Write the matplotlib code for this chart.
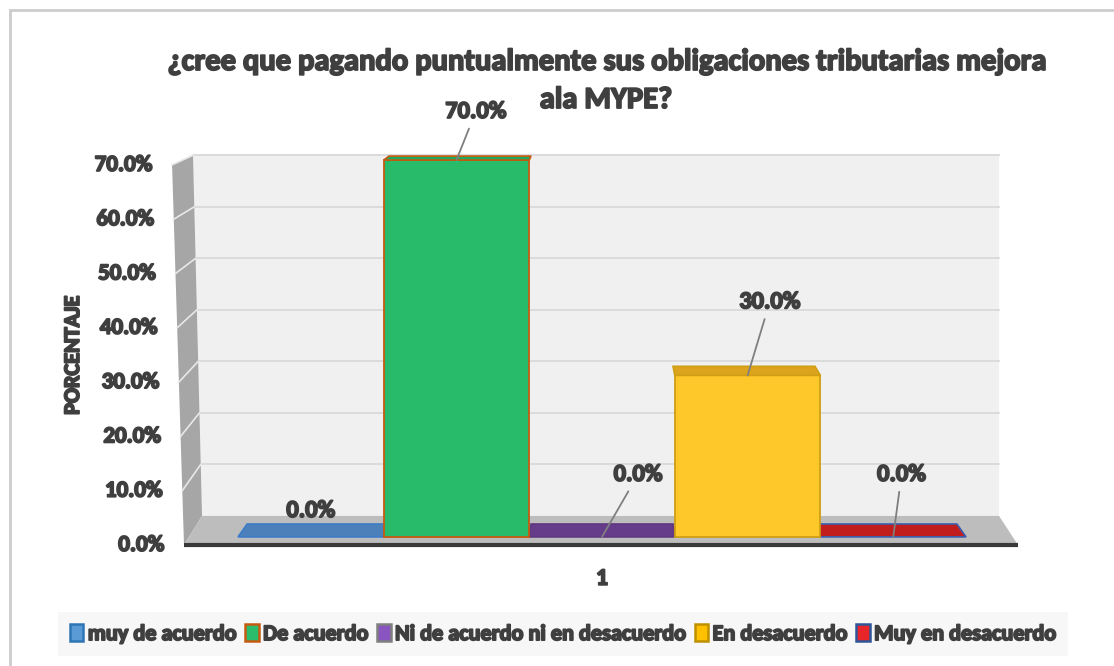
import numpy as np
import matplotlib.pyplot as plt
import matplotlib.patheffects as pe
from matplotlib import font_manager
from matplotlib.patches import Polygon, Rectangle, Patch

instaladas = {f.name for f in font_manager.fontManager.ttflist}
preferidas = ['Carlito', 'Liberation Sans Narrow', 'PT Sans Narrow', 'Roboto Condensed',
              'Open Sans Condensed', 'Archivo Narrow', 'DejaVu Sans']
fuente = [f for f in preferidas if f in instaladas][0]
plt.rcParams['font.family'] = [fuente, 'DejaVu Sans']
plt.rcParams['font.weight'] = 'bold'

# Datos del gráfico
categorias = ['muy de acuerdo', 'De acuerdo', 'Ni de acuerdo ni en desacuerdo',
              'En desacuerdo', 'Muy en desacuerdo']
porcentajes = [0.0, 70.0, 0.0, 30.0, 0.0]
ticks_y = [0, 10, 20, 30, 40, 50, 60, 70]
etiqueta_x = '1'
titulo = ['¿cree que pagando puntualmente sus obligaciones tributarias mejora', 'ala MYPE?']

# Colores
col_frente = ['#4f81b9', '#28bb6a', '#673d88', '#ffc82a', '#c41f1f']
col_tapa = ['#4c80bb', '#22a95e', '#653c8a', '#dca41c', '#c11d1d']
col_borde = ['#3d7cc9', '#c55a11', '#5e3780', '#d09e12', '#3a5fb0']
ley_cara = ['#5b9bd5', '#2bbd6b', '#8a55c0', '#ffc000', '#e8262a']
ley_borde = ['#2e75b6', '#c55a11', '#7f7f7f', '#bf9000', '#2f5597']
gris_texto = '#3f3f3f'
grueso = [pe.withStroke(linewidth=1.3, foreground=gris_texto)]

fig = plt.figure(figsize=(11.14, 6.66), dpi=100)
fig.patch.set_facecolor('white')
fig.add_artist(Rectangle((10 / 1114, -0.02), 1.05, 1 - 10 / 666 + 0.02,
                         transform=fig.transFigure, fill=False,
                         edgecolor='#cccccc', lw=2))

ax = fig.add_axes([184 / 1114, 121 / 666, 834 / 1114, 393 / 666])
ax.set_xlim(-0.871, 4.857)
ax.set_ylim(-1.5, 71.5)
ax.axis('off')

# "3D": suelo, pared de fondo y pared lateral
y_fr, y_fo = -1.5, 3.9          # borde frontal / fondo del suelo
x_fr = (-0.871, 4.857)
x_fo = (-0.747, 4.727)
y_top_fondo, x_top_fondo = 70.9, -0.809
y_top_frente, x_top_frente = 69.1, -0.953

ax.add_patch(Polygon([(x_fo[0], y_fo), (x_top_fondo, y_top_fondo),
                      (x_fo[1], y_top_fondo), (x_fo[1], y_fo)],
                     facecolor='#f0f0f0', edgecolor='none', zorder=0, clip_on=False))
ax.add_patch(Polygon([(x_top_frente, y_top_frente), (x_fr[0], y_fr),
                      (x_fo[0], y_fo), (x_top_fondo, y_top_fondo)],
                     facecolor='#a6a6a6', edgecolor='none', zorder=1, clip_on=False))
ax.add_patch(Polygon([(x_fr[0], y_fr), (x_fr[1], y_fr), (x_fo[1], y_fo), (x_fo[0], y_fo)],
                     facecolor='#bdbdbd', edgecolor='none', zorder=1, clip_on=False))
ax.plot(x_fr, [y_fr, y_fr], color='#3a3a3a', lw=3, zorder=6, clip_on=False,
        solid_capstyle='butt')

for v in ticks_y:
    t = v / 70
    yb = y_fo + t * (y_top_fondo - y_fo)
    xb = x_fo[0] + t * (x_top_fondo - x_fo[0])
    yf = y_fr + t * (y_top_frente - y_fr)
    xf = x_fr[0] + t * (x_top_frente - x_fr[0])
    if v > 0:
        ax.plot([xb, x_fo[1]], [yb, yb], color='#d9d9d9', lw=1.3, zorder=0.5, clip_on=False)
        ax.plot([xf, xb], [yf, yb], color='#e8e8e8', lw=1.2, zorder=1.5, clip_on=False)
    ax.annotate(f'{v:.1f}%', xy=(xf, yf), xytext=(-14, 0), textcoords='offset points',
                ha='right', va='center', fontsize=16.5, color=gris_texto,
                fontweight='bold', annotation_clip=False, path_effects=grueso)

# Barras
x = np.arange(len(porcentajes))
for i, v in enumerate(porcentajes):
    if v > 0:
        ax.bar(x[i], v, width=1, color=col_frente[i], edgecolor=col_borde[i],
               lw=1.3, zorder=4)
    dy = 2.4 - v * (2.4 - 0.74) / 70
    dl = (2 - (x[i] - 0.5)) * 0.025
    dr = (2 - (x[i] + 0.5)) * 0.025
    ax.add_patch(Polygon([(x[i] - 0.5, v), (x[i] + 0.5, v),
                          (x[i] + 0.5 + dr, v + dy), (x[i] - 0.5 + dl, v + dy)],
                         facecolor=col_tapa[i], edgecolor=col_borde[i], lw=1.2,
                         zorder=3 if v == 0 else 5, clip_on=False))

# Etiquetas de datos (desplazamiento en puntos)
desplaz = [(0, 19), (14, 35), (26, 45), (16, 53), (6, 45)]
for i, v in enumerate(porcentajes):
    flecha = None if i == 0 else dict(arrowstyle='-', color='#7f7f7f', lw=1.3,
                                      shrinkA=3, shrinkB=0)
    ax.annotate(f'{v:.1f}%', xy=(x[i], v), xytext=desplaz[i], textcoords='offset points',
                ha='center', va='center', fontsize=17.5, color=gris_texto,
                fontweight='bold', arrowprops=flecha, zorder=7, annotation_clip=False,
                path_effects=grueso)

ax.annotate(etiqueta_x, xy=(2, y_fr), xytext=(0, -24), textcoords='offset points',
            ha='center', va='center', fontsize=17, color=gris_texto, fontweight='bold',
            annotation_clip=False, path_effects=grueso)

fig.text(73 / 1114, 1 - 355 / 666, 'PORCENTAJE', rotation=90, ha='center', va='center',
         fontsize=16, color=gris_texto, fontweight='bold', path_effects=grueso)
for k, linea in enumerate(titulo):
    fig.text(606 / 1114, 1 - (62 + 38 * k) / 666, linea, ha='center', va='center',
             fontsize=22, color=gris_texto, fontweight='bold', path_effects=grueso)

handles = [Patch(facecolor=ley_cara[i], edgecolor=ley_borde[i], lw=1.8)
           for i in range(len(categorias))]
ley = fig.legend(handles, categorias, loc='center', bbox_to_anchor=(563 / 1114, 1 - 634 / 666),
                 ncol=5, frameon=True, fontsize=16, handlelength=0.6, handleheight=0.8,
                 handletextpad=0.2, columnspacing=0.4, borderpad=0.55, borderaxespad=0,
                 fancybox=False)
ley.get_frame().set_facecolor('#f6f6f6')
ley.get_frame().set_edgecolor('none')
for t in ley.get_texts():
    t.set_color(gris_texto)
    t.set_path_effects(grueso)

fig.savefig('out.png', dpi=100)
